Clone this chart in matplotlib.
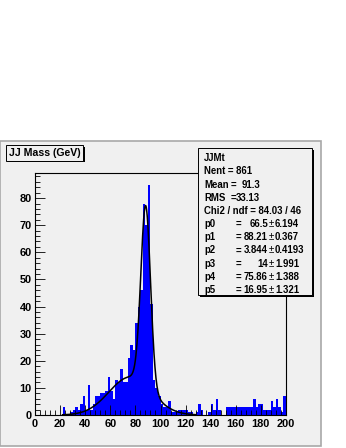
import numpy as np
import matplotlib
matplotlib.use('Agg')
import matplotlib.pyplot as plt
from matplotlib.patches import Rectangle
from matplotlib.ticker import MultipleLocator

# histogram: 100 bins of width 2 from 0 to 200
bin_low = 0
bin_width = 2
counts = [0, 0, 0, 0, 0, 0, 0, 0, 0, 0,
          0, 3, 0, 0, 1, 2, 3, 2, 4, 7,
          2, 11, 2, 4, 7, 7, 8, 8, 9, 14,
          9, 6, 13, 12, 17, 12, 12, 21, 26, 24,
          34, 40, 46, 78, 70, 85, 41, 13, 10, 7,
          4, 3, 3, 5, 1, 1, 1, 2, 2, 2,
          2, 1, 1, 0, 1, 4, 2, 0, 0, 1,
          4, 2, 6, 2, 0, 0, 3, 3, 3, 3,
          3, 3, 3, 3, 3, 3, 3, 6, 3, 4,
          4, 2, 2, 2, 5, 3, 6, 3, 1, 7]

# double gaussian fit shown in the stats box
fit_pars = [66.5, 88.21, 3.844, 14, 75.86, 16.95]
fit_range = [22, 128]

title = "JJ Mass (GeV)"
stats_name = "JJMt"
stats_plain = ["Nent = 861"]
stats_pairs = [("Mean", "91.3"), ("RMS", "33.13")]
chi2_text = "Chi2 / ndf = 84.03 / 46"
par_names = ["p0", "p1", "p2", "p3", "p4", "p5"]
par_values = ["66.5", "88.21", "3.844", "14", "75.86", "16.95"]
par_errors = ["6.194", "0.367", "0.4193", "1.991", "1.388", "1.321"]

W, H = 346, 448
pad_color = '#f0f0f0'

plt.rcParams['font.family'] = ['Liberation Sans', 'DejaVu Sans']
plt.rcParams['font.weight'] = 'bold'


def fx(x):
    return x / W


def fy(y):
    return 1 - y / H


def box(fig, x0, y0, x1, y1, shadow=1.8):
    # ROOT style box with a black shadow on right / bottom
    fig.patches.append(Rectangle((fx(x0 + shadow), fy(y1 + shadow)), fx(x1 - x0), fy(y0) - fy(y1),
                                 transform=fig.transFigure, facecolor='black', edgecolor='none', zorder=5))
    fig.patches.append(Rectangle((fx(x0), fy(y1)), fx(x1 - x0), fy(y0) - fy(y1),
                                 transform=fig.transFigure, facecolor=pad_color, edgecolor='black',
                                 linewidth=0.7, zorder=6))


fig = plt.figure(figsize=(W / 100, H / 100), dpi=100)
fig.patch.set_facecolor('white')

# canvas pad
fig.patches.append(Rectangle((0, fy(446)), fx(321), fy(141) - fy(446), transform=fig.transFigure,
                             facecolor=pad_color, edgecolor='#a8a8a8', linewidth=1.2, zorder=-1))

ax = fig.add_axes([fx(35), fy(415), fx(286) - fx(35), fy(173) - fy(415)])
ax.set_zorder(1)
ax.set_facecolor(pad_color)

edges = bin_low + bin_width * np.arange(len(counts))
ax.bar(edges, counts, width=bin_width, align='edge', color='#0000ff', linewidth=0)

xf = np.linspace(fit_range[0], fit_range[1], 400)
p = fit_pars
yf = p[0] * np.exp(-0.5 * ((xf - p[1]) / p[2]) ** 2) + p[3] * np.exp(-0.5 * ((xf - p[4]) / p[5]) ** 2)
ax.plot(xf, yf, color='black', linewidth=1.1)

ax.set_xlim(0, 200)
ax.set_ylim(0, max(counts) * 1.05)
ax.xaxis.set_major_locator(MultipleLocator(20))
ax.xaxis.set_minor_locator(MultipleLocator(4))
ax.yaxis.set_major_locator(MultipleLocator(10))
ax.yaxis.set_minor_locator(MultipleLocator(2))
ax.tick_params(which='major', direction='in', length=7, width=0.6, labelsize=7.9)
ax.tick_params(axis='x', which='major', pad=3.2)
ax.tick_params(axis='y', which='major', pad=2.2)
ax.tick_params(which='minor', direction='in', length=3.5, width=0.6)
ax.tick_params(top=False, right=False, which='both')
for s in ax.spines.values():
    s.set_linewidth(0.8)

# title box
box(fig, 6, 145, 83, 160.5)
fig.text(fx(44.5), fy(153), title, ha='center', va='center', fontsize=7.6, zorder=7)

# stats box
box(fig, 198, 148, 312, 295)
line_y = [158.3 + 13.17 * i for i in range(11)]
fs = 6.9
fig.text(fx(204), fy(line_y[0]), stats_name, ha='left', va='center', fontsize=fs, zorder=7)
fig.text(fx(204), fy(line_y[1]), stats_plain[0], ha='left', va='center', fontsize=fs, zorder=7)
for k, (name, val) in enumerate(stats_pairs):
    yy = fy(line_y[2 + k])
    fig.text(fx(204), yy, name, ha='left', va='center', fontsize=fs, zorder=7)
    fig.text(fx(230.5), yy, "=", ha='left', va='center', fontsize=fs, zorder=7)
    fig.text(fx(260), yy, val, ha='right', va='center', fontsize=fs, zorder=7)
fig.text(fx(204), fy(line_y[4]), chi2_text, ha='left', va='center', fontsize=fs, zorder=7)
for k in range(len(par_names)):
    yy = fy(line_y[5 + k])
    fig.text(fx(204), yy, par_names[k], ha='left', va='center', fontsize=fs, zorder=7)
    fig.text(fx(236), yy, "=", ha='left', va='center', fontsize=fs, zorder=7)
    fig.text(fx(268), yy, par_values[k], ha='right', va='center', fontsize=fs, zorder=7)
    fig.text(fx(271.5), yy, "\u00b1", ha='center', va='center', fontsize=fs, fontweight='normal', zorder=7)
    fig.text(fx(275), yy, par_errors[k], ha='left', va='center', fontsize=fs, zorder=7)

fig.savefig('out.png', dpi=100, facecolor='white')
